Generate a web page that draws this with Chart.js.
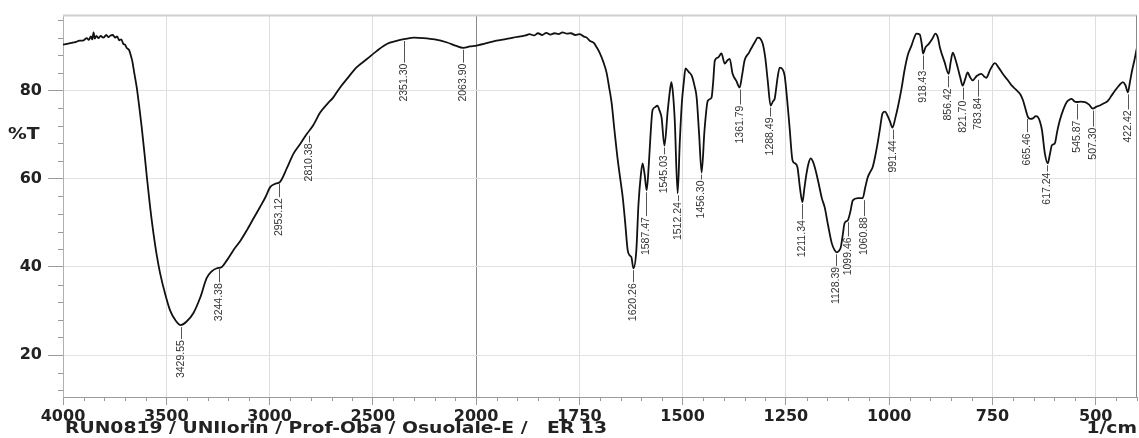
<!DOCTYPE html>
<html>
<head>
<meta charset="utf-8">
<script src="https://cdn.jsdelivr.net/npm/chart.js@4.4.1/dist/chart.umd.min.js"></script>
<style>
  html, body { margin: 0; padding: 0; background: #fff; }
  #wrap { width: 1139px; height: 438px; position: relative; }
</style>
</head>
<body>
<div id="wrap"><canvas id="irChart"></canvas></div>
<script>
// spectrum (wavenumber in 1/cm, %T)
const wavenumbers = [
  4000, 3980, 3960, 3940, 3920, 3900, 3885, 3875, 3865, 3858, 3852, 3846, 3838, 3828, 3818, 3805,
  3790, 3780, 3770, 3758, 3748, 3738, 3728, 3718, 3708, 3700, 3690, 3680, 3672, 3665, 3655, 3643,
  3630, 3619, 3606, 3594, 3578, 3562, 3546, 3530, 3505, 3482, 3457, 3430, 3404, 3369, 3336, 3304,
  3280, 3255, 3231, 3205, 3175, 3140, 3110, 3080, 3046, 3020, 2997, 2975, 2949, 2915, 2884, 2850,
  2819, 2790, 2755, 2720, 2692, 2660, 2624, 2580, 2527, 2480, 2430, 2390, 2343, 2300, 2256, 2200,
  2140, 2100, 2062, 2030, 1999, 1951, 1910, 1880, 1871, 1860, 1850, 1840, 1830, 1820, 1810, 1800,
  1791, 1780, 1770, 1760, 1750, 1740, 1732, 1725, 1715, 1708, 1701, 1692, 1684, 1678, 1672, 1665,
  1657, 1651, 1645, 1639, 1633, 1628, 1624, 1619, 1612, 1607, 1601, 1597, 1592, 1587, 1582, 1578,
  1573, 1567, 1561, 1556, 1551, 1544, 1536, 1530, 1527, 1523, 1519, 1512, 1507, 1502, 1497, 1493,
  1485, 1478, 1471, 1466, 1460, 1454, 1447, 1439, 1430, 1426, 1422, 1414, 1406, 1398, 1392, 1386,
  1379, 1370, 1362, 1356, 1350, 1340, 1333, 1325, 1318, 1312, 1306, 1300, 1294, 1287, 1281, 1277,
  1270, 1265, 1258, 1253, 1247, 1241, 1234, 1228, 1222, 1216, 1210, 1205, 1200, 1195, 1190, 1185,
  1180, 1172, 1163, 1156, 1148, 1139, 1132, 1127, 1122, 1117, 1112, 1108, 1100, 1094, 1088, 1076,
  1064, 1058, 1052, 1046, 1040, 1034, 1028, 1022, 1016, 1010, 1004, 998, 992, 985, 979, 970,
  963, 955, 946, 940, 934, 926, 921, 918, 912, 904, 895, 888, 882, 877, 866, 856,
  851, 846, 840, 834, 828, 822, 816, 810, 804, 798, 788, 777, 770, 765, 755, 744,
  735, 725, 714, 703, 693, 683, 676, 671, 664, 658, 652, 645, 640, 635, 630, 623,
  616, 611, 606, 599, 593, 587, 578, 570, 564, 558, 552, 546, 536, 526, 516, 507,
  499, 490, 480, 470, 462, 453, 443, 434, 428, 422, 417, 412, 406, 400
];
const transmittance = [
  90.4, 90.6, 90.8, 91.0, 91.3, 91.4, 91.9, 91.5, 92.3, 91.6, 93.2, 91.8, 92.4, 91.9, 92.4, 92.0,
  92.6, 92.1, 92.5, 92.6, 92.0, 92.3, 91.4, 91.6, 90.6, 90.4, 89.6, 89.2, 88.0, 86.8, 84.0, 80.7,
  76.0, 71.7, 66.0, 60.4, 53.5, 47.6, 42.6, 38.6, 33.8, 30.2, 28.0, 26.8, 27.5, 29.5, 33.0, 37.5,
  39.0, 39.7, 40.0, 41.6, 43.8, 46.0, 48.3, 50.8, 53.6, 55.8, 58.1, 58.8, 59.3, 62.5, 65.7, 68.0,
  70.2, 72.0, 75.0, 77.0, 78.4, 80.6, 82.7, 85.2, 87.2, 89.0, 90.6, 91.2, 91.7, 92.0, 91.9, 91.6,
  90.9, 90.2, 89.7, 90.0, 90.2, 91.3, 92.0, 92.5, 92.8, 92.5, 93.0, 92.6, 93.1, 92.7, 93.0, 92.8,
  93.2, 92.9, 93.0, 92.6, 92.8, 92.3, 92.0, 91.3, 90.8, 89.8, 88.6, 86.5, 84.0, 80.8, 77.3, 71.0,
  64.2, 60.0, 55.8, 50.0, 43.8, 42.6, 42.2, 39.7, 43.8, 54.0, 61.0, 63.5, 61.0, 57.4, 63.0, 69.4,
  75.5, 76.2, 76.6, 75.5, 73.9, 67.5, 75.5, 80.5, 81.9, 79.0, 73.2, 56.7, 68.0, 77.0, 82.0, 85.0,
  84.2, 83.4, 81.0, 78.4, 70.0, 61.4, 71.0, 77.7, 78.4, 82.0, 86.8, 87.5, 88.4, 86.1, 86.8, 87.2,
  83.8, 82.2, 80.7, 83.5, 86.8, 88.5, 89.7, 91.0, 92.0, 91.8, 90.6, 87.5, 82.3, 76.6, 77.6, 78.2,
  83.0, 85.2, 84.8, 83.4, 78.0, 71.6, 64.2, 63.5, 62.6, 58.0, 54.7, 58.0, 61.2, 63.5, 64.6, 64.0,
  62.6, 59.5, 55.6, 53.5, 49.5, 45.4, 43.8, 43.3, 43.6, 44.5, 47.5, 49.9, 50.6, 52.5, 55.1, 55.6,
  55.6, 58.0, 60.3, 61.5, 62.6, 65.0, 68.0, 71.5, 74.8, 75.2, 74.3, 73.0, 71.6, 73.8, 76.2, 80.5,
  84.5, 88.0, 90.2, 91.8, 92.9, 92.7, 90.5, 88.4, 89.8, 90.6, 91.8, 92.9, 92.0, 89.7, 86.5, 83.8,
  86.5, 88.6, 87.2, 85.2, 83.0, 81.1, 82.6, 84.1, 83.0, 82.3, 83.3, 83.8, 83.2, 82.9, 84.8, 86.2,
  85.2, 83.8, 82.5, 81.1, 80.2, 79.2, 77.8, 76.2, 74.0, 73.6, 73.7, 74.2, 74.0, 73.0, 71.0, 65.7,
  63.5, 65.5, 67.6, 68.0, 70.8, 73.2, 75.8, 77.4, 77.9, 78.1, 77.6, 77.4, 77.5, 77.4, 76.8, 75.9,
  76.3, 76.6, 77.1, 77.7, 78.8, 80.0, 81.2, 81.9, 81.2, 79.6, 82.0, 84.5, 87.0, 89.8
];

// peak picks: printed text, %T of the curve at the pick, %T where the text starts
const peakLabels = ['3429.55', '3244.38', '2953.12', '2810.38', '2351.30', '2063.90', '1620.26',
  '1587.47', '1545.03', '1512.24', '1456.30', '1361.79', '1288.49', '1211.34', '1128.39', '1099.46',
  '1060.88', '991.44', '918.43', '856.42', '821.70', '783.84', '665.46', '617.24', '545.87',
  '507.30', '422.42'];
const peakT = [26.8, 40.0, 59.3, 70.2, 91.7, 89.7, 39.7, 57.4, 67.5, 56.7, 61.4, 80.7, 76.6, 54.7,
  43.3, 50.6, 55.6, 71.6, 88.4, 83.8, 81.1, 82.9, 74.0, 63.5, 77.4, 75.9, 79.6];
const peakTextT = [23.4, 36.3, 55.6, 68.0, 86.1, 86.1, 36.3, 51.3, 65.3, 54.7, 59.6, 76.6, 73.9, 50.6,
  40.0, 46.7, 51.3, 68.7, 84.5, 80.5, 77.7, 78.4, 70.3, 61.4, 73.2, 71.6, 75.5];

const xTickLabels = [4000, 3500, 3000, 2500, 2000, 1750, 1500, 1250, 1000, 750, 500];
const yTickLabels = [20, 40, 60, 80];
const footerText = 'RUN0819 / UNIlorin / Prof-Oba / Osuolale-E /   ER 13';

// wavenumber axis: 500/div above 2000, 250/div below (same div width)
const breakWave = 2000;
class WaveScale extends Chart.LinearScale {
    buildTicks() {
        this.start = this.min;
        this.end = this.max;
        return xTickLabels.map(v => ({ value: v }));
    }
    toDivs(v) {
        return v >= breakWave ? (this.max - v) / 500 : (this.max - breakWave) / 500 + (breakWave - v) / 250;
    }
    getPixelForValue(v) {
        return this.getPixelForDecimal(this.toDivs(v) / this.toDivs(this.min));
    }
    getValueForPixel(px) {
        const d = this.getDecimalForPixel(px) * this.toDivs(this.min);
        const dBreak = (this.max - breakWave) / 500;
        return d <= dBreak ? this.max - d * 500 : breakWave - (d - dBreak) * 250;
    }
}
WaveScale.id = 'wave';
WaveScale.defaults = Chart.LinearScale.defaults;
Chart.register(WaveScale);

const tickFont = { family: 'DejaVu Sans', size: 16, weight: 'bold' };

function stretchedText(ctx, text, x, y, align) {
    ctx.save();
    ctx.font = 'bold 15px "DejaVu Sans"';
    ctx.textBaseline = 'middle';
    const w = ctx.measureText(text).width * 1.25;
    const left = align === 'right' ? x - w : x;
    ctx.translate(left, y);
    ctx.scale(1.25, 1);
    ctx.textAlign = 'left';
    ctx.fillText(text, 0, 0);
    ctx.restore();
}

const decorations = {
    id: 'decorations',
    afterDraw(chart) {
        const { ctx, chartArea: a, scales: { x, y } } = chart;
        ctx.save();
        // frame
        ctx.strokeStyle = '#cfcfcf';
        ctx.lineWidth = 2;
        ctx.beginPath();
        ctx.moveTo(a.left, a.top);
        ctx.lineTo(a.right, a.top);
        ctx.stroke();
        ctx.strokeStyle = '#8c8c8c';
        ctx.lineWidth = 1;
        ctx.beginPath();
        ctx.moveTo(a.right - 0.5, a.top);
        ctx.lineTo(a.right - 0.5, a.bottom);
        ctx.stroke();

        // minor ticks
        ctx.strokeStyle = '#9a9a9a';
        ctx.beginPath();
        for (let v = 3900; v > breakWave; v -= 100) {
            if (v % 500 === 0) continue;
            const px = Math.round(x.getPixelForValue(v)) + 0.5;
            ctx.moveTo(px, a.bottom);
            ctx.lineTo(px, a.bottom + 4);
        }
        for (let v = 1950; v >= 400; v -= 50) {
            if (v % 250 === 0) continue;
            const px = Math.round(x.getPixelForValue(v)) + 0.5;
            ctx.moveTo(px, a.bottom);
            ctx.lineTo(px, a.bottom + 4);
        }
        for (let v = 12; v <= 96; v += 4) {
            if (v % 20 === 0) continue;
            const py = Math.round(y.getPixelForValue(v)) + 0.5;
            ctx.moveTo(a.left - 5, py);
            ctx.lineTo(a.left, py);
        }
        ctx.stroke();

        // peak picks
        ctx.strokeStyle = '#555';
        ctx.fillStyle = '#333';
        ctx.font = '10.5px "Liberation Sans"';
        peakLabels.forEach((label, i) => {
            const px = Math.round(x.getPixelForValue(parseFloat(label))) + 0.5;
            const y1 = y.getPixelForValue(peakT[i]) + 2;
            const y2 = y.getPixelForValue(peakTextT[i]) - 1;
            ctx.beginPath();
            ctx.moveTo(px, y1);
            ctx.lineTo(px, y2);
            ctx.stroke();
            ctx.save();
            ctx.translate(px, y2 + 1);
            ctx.rotate(-Math.PI / 2);
            ctx.textAlign = 'right';
            ctx.textBaseline = 'middle';
            ctx.fillText(label, 0, 0);
            ctx.restore();
        });

        // axis captions
        ctx.fillStyle = '#222';
        stretchedText(ctx, '%T', 8, y.getPixelForValue(70), 'left');
        stretchedText(ctx, footerText, 65, 429, 'left');
        stretchedText(ctx, '1/cm', 1137, 429, 'right');
        ctx.restore();
    }
};

const ctx = document.getElementById('irChart').getContext('2d');

const chart = new Chart(ctx, {
    type: 'line',
    data: {
        datasets: [{
            data: wavenumbers.map((w, i) => ({ x: w, y: transmittance[i] })),
            borderColor: '#111',
            borderWidth: 1.8,
            pointRadius: 0,
            fill: false,
            cubicInterpolationMode: 'monotone'
        }]
    },
    plugins: [decorations],
    options: {
        responsive: true,
        maintainAspectRatio: false,
        animation: false,
        events: [],
        layout: { padding: { top: 14, right: 2, left: 0, bottom: 0 } },
        plugins: {
            legend: { display: false },
            tooltip: { enabled: false }
        },
        scales: {
            x: {
                type: 'wave',
                min: 400,
                max: 4000,
                afterFit: s => { s.height = 41; },
                grid: {
                    color: c => (c.tick && c.tick.value === breakWave ? '#8a8a8a' : '#dedede'),
                    tickColor: '#9a9a9a',
                    tickLength: 8
                },
                border: { color: '#9a9a9a' },
                ticks: {
                    autoSkip: false,
                    maxRotation: 0,
                    padding: 2,
                    color: '#222',
                    font: tickFont,
                    callback: v => String(v)
                }
            },
            y: {
                min: 10.5,
                max: 97,
                afterFit: s => { s.width = 63; },
                grid: {
                    color: '#e2e2e2',
                    tickColor: '#9a9a9a',
                    tickLength: 15
                },
                border: { color: '#b0b0b0' },
                ticks: {
                    stepSize: 20,
                    includeBounds: false,
                    padding: 6,
                    color: '#222',
                    font: tickFont,
                    callback: v => (yTickLabels.includes(v) ? String(v) : '')
                }
            }
        }
    }
});
</script>
</body>
</html>
